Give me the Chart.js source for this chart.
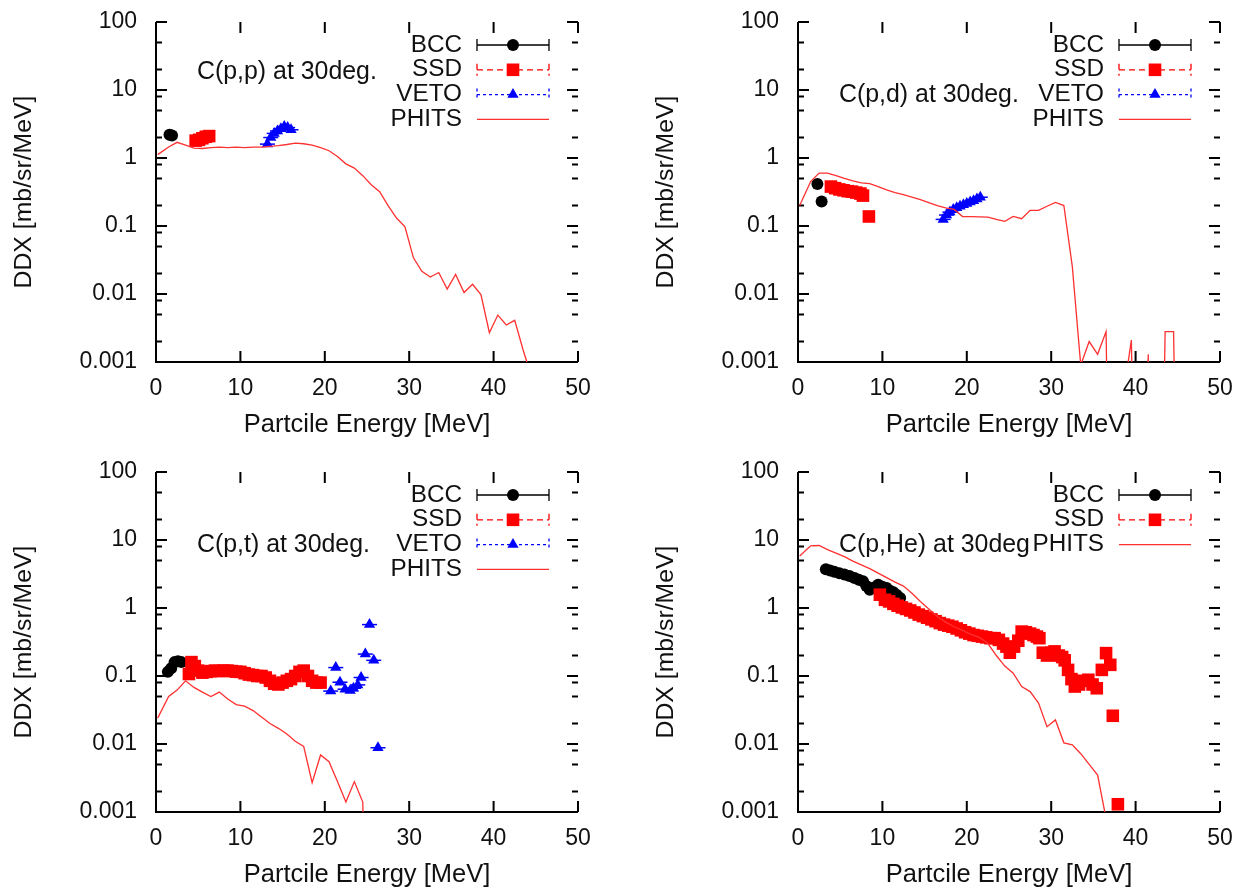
<!DOCTYPE html>
<html>
<head>
<meta charset="utf-8">
<script src="https://cdn.jsdelivr.net/npm/chart.js@4.4.0/dist/chart.umd.min.js"></script>
<style>
  html, body { margin: 0; padding: 0; background: #fff; overflow: hidden; }
  canvas { position: absolute; }
</style>
</head>
<body>
<canvas id="cpp" width="620" height="439" style="left:0;top:0"></canvas>
<canvas id="cpd" width="620" height="439" style="left:642px;top:0"></canvas>
<canvas id="cpt" width="620" height="439" style="left:0;top:450px"></canvas>
<canvas id="cphe" width="620" height="439" style="left:642px;top:450px"></canvas>
<script>
// axes shared by all four panels
const xTicks = [0, 10, 20, 30, 40, 50];
const xTickLabels = ['0', '10', '20', '30', '40', '50'];
const yTicks = [100, 10, 1, 0.1, 0.01, 0.001];
const yTickLabels = ['100', '10', '1', '0.1', '0.01', '0.001'];
const yMinor = [50, 20, 8, 5, 2, 0.8, 0.5, 0.2, 0.08, 0.05, 0.02, 0.008, 0.005, 0.002];
const xTitle = 'Partcile Energy [MeV]';
const yTitle = 'DDX [mb/sr/MeV]';

// PHITS energy bins (MeV)
const phitsE = [0.2, 1.5, 2.5, 3.5, 4.5, 5.5, 6.5, 7.5, 8.5, 9.5, 10.5, 11.5, 12.5, 13.5, 14.5,
  15.5, 16.5, 17.5, 18.5, 19.5, 20.5, 21.5, 22.5, 23.5, 24.5, 25.5, 26.5, 27.5, 28.5, 29.5,
  30.5, 31.5, 32.5, 33.5, 34.5, 35.5, 36.5, 37.5, 38.5, 39.5, 40.5, 41.5, 42.5, 43.5, 44.5,
  45.5, 46.5, 47.5, 48.5, 49.5];

// C(p,p)
const ppBccE = [1.6, 1.9];
const ppBccV = [2.2, 2.15];
const ppSsdE = [4.7, 5.1, 5.5, 5.9, 6.3];
const ppSsdV = [1.8, 1.85, 1.95, 2.05, 2.1];
const ppVetoE = [13.2, 13.6, 14.0, 14.4, 14.8, 15.2, 15.6, 16.0];
const ppVetoV = [1.6, 2.0, 2.3, 2.5, 2.7, 2.9, 2.8, 2.6];
const ppPhits = [1.12, 1.45, 1.7, 1.55, 1.4, 1.38, 1.42, 1.45, 1.42, 1.45, 1.42, 1.45, 1.45, 1.48,
  1.52, 1.58, 1.66, 1.62, 1.55, 1.42, 1.28, 1.05, 0.82, 0.71, 0.55, 0.405, 0.32, 0.2, 0.131,
  0.097, 0.034, 0.0216, 0.0178, 0.0207, 0.0118, 0.0194, 0.0105, 0.0139, 0.0098, 0.0027,
  0.0049, 0.0035, 0.0041, 0.0015, 0.0006];

// C(p,d)
const pdBccE = [2.3, 2.8];
const pdBccV = [0.415, 0.23];
const pdSsdE = [3.9, 4.4, 4.9, 5.4, 5.9, 6.4, 6.9, 7.4, 7.7, 8.4];
const pdSsdV = [0.38, 0.36, 0.345, 0.335, 0.325, 0.32, 0.31, 0.3, 0.28, 0.138];
const pdVetoE = [17.2, 17.6, 18.0, 18.4, 18.8, 19.2, 19.6, 20.0, 20.4, 20.8, 21.2, 21.6];
const pdVetoV = [0.125, 0.145, 0.16, 0.175, 0.185, 0.195, 0.205, 0.215, 0.225, 0.235, 0.25, 0.265];
const pdPhits = [0.2, 0.45, 0.6, 0.6, 0.55, 0.5, 0.46, 0.43, 0.42, 0.38, 0.34, 0.31, 0.29, 0.265,
  0.245, 0.22, 0.2, 0.185, 0.175, 0.138, 0.137, 0.136, 0.135, 0.125, 0.117, 0.138, 0.128, 0.17,
  0.17, 0.195, 0.222, 0.2, 0.0255, 0.0009, 0.002, 0.0013, 0.0028, 1e-10, 0.0003, 0.0021, 1e-10,
  0.0013, 1e-10, 0.0028, 0.0028, 1e-10];

// C(p,t)
const ptBccE = [1.4, 1.8, 2.2, 2.6, 3.0];
const ptBccV = [0.115, 0.13, 0.16, 0.165, 0.16];
const ptSsdE = [3.9, 4.2, 4.6, 5.0, 5.5, 6.0, 6.5, 7.0, 7.5, 8.0, 8.5, 9.0, 9.5, 10.0, 10.5, 11.0,
  11.5, 12.0, 12.5, 13.0, 13.5, 14.0, 14.5, 15.0, 15.5, 16.0, 16.5, 17.0, 17.5, 18.0, 18.5, 19.0, 19.5];
const ptSsdV = [0.107, 0.16, 0.14, 0.12, 0.112, 0.115, 0.118, 0.12, 0.118, 0.12, 0.12, 0.118, 0.116,
  0.115, 0.11, 0.105, 0.103, 0.1, 0.1, 0.095, 0.085, 0.077, 0.075, 0.08, 0.085, 0.09, 0.1, 0.115,
  0.12, 0.1, 0.085, 0.08, 0.08];
const ptVetoE = [20.7, 21.3, 21.8, 22.4, 23.0, 23.4, 23.9, 24.3, 24.8, 25.3, 25.8, 26.3];
const ptVetoV = [0.06, 0.133, 0.081, 0.064, 0.061, 0.066, 0.074, 0.095, 0.21, 0.57, 0.17, 0.0088];
const ptPhits = [0.024, 0.05, 0.062, 0.085, 0.068, 0.058, 0.05, 0.058, 0.046, 0.038, 0.036, 0.031,
  0.025, 0.02, 0.017, 0.014, 0.011, 0.0092, 0.0027, 0.0069, 0.0055, 0.0028, 0.0014, 0.0028,
  0.0014, 1e-10];

// C(p,He)
const pheBccE = [3.3, 3.8, 4.3, 4.9, 5.5, 6.1, 6.7, 7.2, 7.7, 8.1, 8.5, 9.0, 9.5, 10.0, 10.5,
  10.9, 11.3, 11.7, 12.1];
const pheBccV = [3.7, 3.55, 3.4, 3.25, 3.1, 2.95, 2.77, 2.6, 2.47, 2.1, 1.86, 2.0, 2.2, 2.05, 1.97,
  1.8, 1.7, 1.55, 1.4];
const pheSsdE = [9.7, 10.3, 10.8, 11.3, 11.8, 12.3, 12.8, 13.3, 13.8, 14.3, 14.8, 15.3, 15.8, 16.3,
  16.8, 17.3, 17.8, 18.3, 18.8, 19.3, 19.8, 20.3, 20.8, 21.3, 21.8, 22.3, 22.8, 23.3, 23.8, 24.3,
  24.7, 25.1, 25.6, 26.1, 26.5, 27.0, 27.5, 27.9, 28.3, 28.6, 29.0, 29.5, 30.0, 30.4, 30.9, 31.3,
  31.6, 32.0, 32.4, 32.8, 33.3, 33.8, 34.4, 34.9, 35.4, 36.0, 36.5, 37.0, 37.3, 37.9];
const pheSsdV = [1.57, 1.32, 1.25, 1.15, 1.08, 1.02, 0.97, 0.92, 0.86, 0.8, 0.76, 0.72, 0.68, 0.64,
  0.6, 0.57, 0.55, 0.53, 0.5, 0.47, 0.44, 0.42, 0.4, 0.39, 0.38, 0.37, 0.36, 0.36, 0.34, 0.3,
  0.27, 0.22, 0.27, 0.33, 0.45, 0.44, 0.42, 0.4, 0.38, 0.36, 0.22, 0.2, 0.22, 0.23, 0.2, 0.19,
  0.17, 0.123, 0.09, 0.07, 0.075, 0.085, 0.088, 0.075, 0.066, 0.123, 0.217, 0.146, 0.026, 0.0013];
const phePhits = [5.8, 8.2, 8.3, 7.2, 6.4, 5.7, 4.9, 4.3, 3.8, 3.25, 2.8, 2.4, 2.1, 1.65, 1.25, 0.97,
  0.75, 0.62, 0.53, 0.47, 0.41, 0.37, 0.3, 0.2, 0.14, 0.11, 0.07, 0.059, 0.04, 0.018, 0.0226,
  0.0104, 0.0097, 0.0072, 0.005, 0.0035, 0.0008];

const FONT = '"Liberation Sans", Arial, Helvetica, sans-serif';

const keyStyle = {
  BCC: { color: '#000000', dash: [], marker: 'circle' },
  SSD: { color: '#ff0000', dash: [6, 4], marker: 'rect' },
  VETO: { color: '#0000ff', dash: [3, 3], marker: 'triangle' },
  PHITS: { color: '#ff3030', dash: [], marker: null }
};

function pts(xs, ys) {
  return ys.map((v, i) => ({ x: xs[i], y: v }));
}

function marker(ctx, kind, x, y, color) {
  ctx.fillStyle = color;
  ctx.beginPath();
  if (kind === 'circle') {
    ctx.arc(x, y, 6, 0, Math.PI * 2);
  } else if (kind === 'rect') {
    ctx.rect(x - 6.3, y - 6.3, 12.6, 12.6);
  } else if (kind === 'triangle') {
    const r = 6.5;
    for (let k = 0; k < 3; k++) {
      const a = k * 2 * Math.PI / 3;
      const px = x + Math.sin(a) * r, py = y - Math.cos(a) * r;
      if (k === 0) ctx.moveTo(px, py); else ctx.lineTo(px, py);
    }
    ctx.closePath();
  }
  ctx.fill();
}

// gnuplot-like frame: left/bottom border, inward mirrored tics, labels, key and note
const frame = {
  id: 'frame',
  beforeDatasetsDraw(chart) {
    const { ctx, chartArea: a, scales: { x, y } } = chart;
    ctx.save();
    ctx.strokeStyle = '#000';
    ctx.lineWidth = 2;
    ctx.beginPath();
    ctx.moveTo(a.left, a.top);
    ctx.lineTo(a.left, a.bottom);
    ctx.lineTo(a.right, a.bottom);
    for (const v of xTicks) {
      const px = x.getPixelForValue(v);
      ctx.moveTo(px, a.bottom); ctx.lineTo(px, a.bottom - 11);
      ctx.moveTo(px, a.top); ctx.lineTo(px, a.top + 11);
    }
    for (const v of yTicks) {
      const py = y.getPixelForValue(v);
      ctx.moveTo(a.left, py); ctx.lineTo(a.left + 11, py);
      ctx.moveTo(a.right, py); ctx.lineTo(a.right - 11, py);
    }
    for (const v of yMinor) {
      const py = y.getPixelForValue(v);
      ctx.moveTo(a.left, py); ctx.lineTo(a.left + 6, py);
      ctx.moveTo(a.right, py); ctx.lineTo(a.right - 6, py);
    }
    ctx.stroke();
    ctx.restore();
  },
  afterDraw(chart, args, opts) {
    const { ctx, chartArea: a, scales: { x, y } } = chart;
    ctx.save();
    ctx.fillStyle = '#111';
    ctx.font = '23px ' + FONT;
    ctx.textBaseline = 'middle';
    ctx.textAlign = 'right';
    yTicks.forEach((v, i) => ctx.fillText(yTickLabels[i], a.left - 19, y.getPixelForValue(v)));
    ctx.textAlign = 'center';
    xTicks.forEach((v, i) => ctx.fillText(xTickLabels[i], x.getPixelForValue(v), a.bottom + 27));

    ctx.font = '25.5px ' + FONT;
    ctx.fillText(xTitle, (a.left + a.right) / 2, a.bottom + 63);
    ctx.font = '24.8px ' + FONT;
    ctx.save();
    ctx.translate(a.left - 132, (a.top + a.bottom) / 2);
    ctx.rotate(-Math.PI / 2);
    ctx.fillText(yTitle, 0, 0);
    ctx.restore();

    // key
    ctx.font = '24.3px ' + FONT;
    const x1 = a.right - 101, x2 = a.right - 29, xm = (x1 + x2) / 2;
    opts.keys.forEach((name, i) => {
      const yy = a.top + 23 + 24.8 * i;
      const s = keyStyle[name];
      ctx.fillStyle = '#111';
      ctx.textAlign = 'right';
      ctx.fillText(name, a.right - 116, yy);
      ctx.strokeStyle = s.color;
      ctx.lineWidth = name === 'PHITS' ? 1.4 : 1.3;
      ctx.setLineDash(s.dash);
      ctx.beginPath();
      ctx.moveTo(x1, yy); ctx.lineTo(x2, yy);
      if (s.marker) {
        ctx.moveTo(x1, yy - 6); ctx.lineTo(x1, yy + 6);
        ctx.moveTo(x2, yy - 6); ctx.lineTo(x2, yy + 6);
      }
      ctx.stroke();
      ctx.setLineDash([]);
      if (s.marker) marker(ctx, s.marker, xm, yy, s.color);
    });

    ctx.font = '24.9px ' + FONT;
    ctx.fillStyle = '#111';
    ctx.textAlign = 'left';
    ctx.fillText(opts.note, a.left + 41, a.top + opts.noteY);
    ctx.restore();
  }
};

function makePanel(id, d) {
  const datasets = [{
    label: 'PHITS', data: pts(phitsE, d.phits), showLine: true, fill: false,
    borderColor: keyStyle.PHITS.color, borderWidth: 1.3, pointRadius: 0, tension: 0
  }];
  if (d.vetoE) {
    datasets.push({
      label: 'VETO', data: pts(d.vetoE, d.vetoV), pointStyle: 'line', pointRadius: 7.5,
      pointBorderColor: '#0000ff', pointBorderWidth: 1.5, clip: false
    });
    datasets.push({
      label: 'VETO', data: pts(d.vetoE, d.vetoV), pointStyle: 'triangle', pointRadius: 6.5,
      pointBackgroundColor: '#0000ff', pointBorderWidth: 0, clip: false
    });
  }
  datasets.push({
    label: 'SSD', data: pts(d.ssdE, d.ssdV), pointStyle: 'rect', pointRadius: 8.9,
    pointBackgroundColor: '#ff0000', pointBorderWidth: 0, clip: false
  });
  datasets.push({
    label: 'BCC', data: pts(d.bccE, d.bccV), pointStyle: 'circle', pointRadius: 6,
    pointBackgroundColor: '#000000', pointBorderWidth: 0, clip: false
  });

  return new Chart(document.getElementById(id), {
    type: 'scatter',
    data: { datasets },
    options: {
      responsive: false,
      animation: false,
      devicePixelRatio: 1,
      events: [],
      layout: { padding: { left: 156, right: 42, top: 22, bottom: 77 } },
      scales: {
        x: { type: 'linear', min: 0, max: 50, display: false },
        y: { type: 'logarithmic', min: 0.001, max: 100, display: false }
      },
      plugins: {
        legend: { display: false },
        tooltip: { enabled: false },
        frame: { keys: d.keys, note: d.note, noteY: d.noteY }
      }
    },
    plugins: [frame]
  });
}

makePanel('cpp', {
  bccE: ppBccE, bccV: ppBccV, ssdE: ppSsdE, ssdV: ppSsdV, vetoE: ppVetoE, vetoV: ppVetoV,
  phits: ppPhits, keys: ['BCC', 'SSD', 'VETO', 'PHITS'], note: 'C(p,p) at 30deg.', noteY: 50
});
makePanel('cpd', {
  bccE: pdBccE, bccV: pdBccV, ssdE: pdSsdE, ssdV: pdSsdV, vetoE: pdVetoE, vetoV: pdVetoV,
  phits: pdPhits, keys: ['BCC', 'SSD', 'VETO', 'PHITS'], note: 'C(p,d) at 30deg.', noteY: 73
});
makePanel('cpt', {
  bccE: ptBccE, bccV: ptBccV, ssdE: ptSsdE, ssdV: ptSsdV, vetoE: ptVetoE, vetoV: ptVetoV,
  phits: ptPhits, keys: ['BCC', 'SSD', 'VETO', 'PHITS'], note: 'C(p,t) at 30deg.', noteY: 73
});
makePanel('cphe', {
  bccE: pheBccE, bccV: pheBccV, ssdE: pheSsdE, ssdV: pheSsdV,
  phits: phePhits, keys: ['BCC', 'SSD', 'PHITS'], note: 'C(p,He) at 30deg', noteY: 73
});
</script>
</body>
</html>
